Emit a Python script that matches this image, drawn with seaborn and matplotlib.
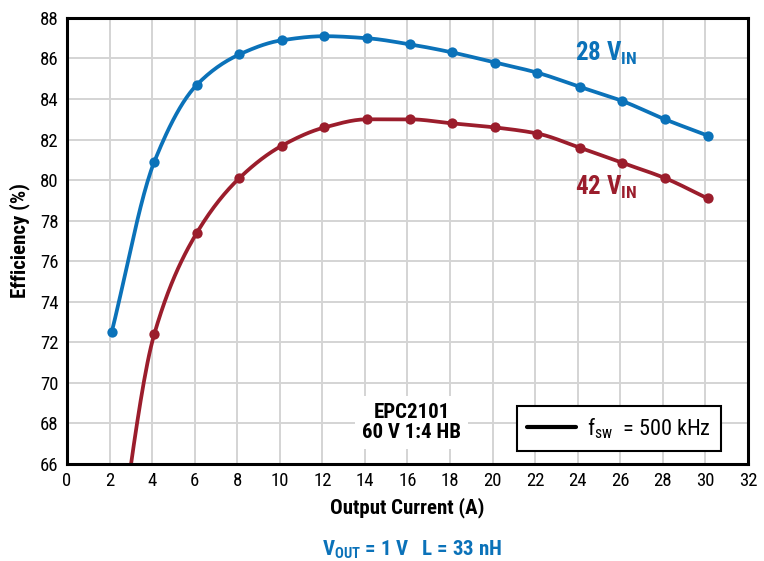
import numpy as np
import pandas as pd
import matplotlib
matplotlib.use('Agg')
import matplotlib.pyplot as plt
from matplotlib.lines import Line2D
import seaborn as sns

#Data
current_28 = [2.1, 4.1, 6.1, 8.1, 10.1, 12.1, 14.1, 16.1, 18.1, 20.1, 22.1, 24.1, 26.1, 28.1, 30.1]
eff_28 = [72.5, 80.9, 84.7, 86.2, 86.9, 87.1, 87.0, 86.7, 86.3, 85.8, 85.3, 84.6, 83.9, 83.0, 82.2]
current_42 = [2.1, 4.1, 6.1, 8.1, 10.1, 12.1, 14.1, 16.1, 18.1, 20.1, 22.1, 24.1, 26.1, 28.1, 30.1]
eff_42 = [59.5, 72.4, 77.4, 80.1, 81.7, 82.6, 83.0, 83.0, 82.8, 82.6, 82.3, 81.6, 80.85, 80.1, 79.1]
x_ticks = list(range(0, 33, 2))
y_ticks = list(range(66, 89, 2))

blue = '#0b72b9'
red = '#9b1d2c'

sns.set_style('whitegrid')
family = 'Roboto Condensed'
plt.rcParams['font.family'] = [family, 'DejaVu Sans']
plt.rcParams['mathtext.fontset'] = 'custom'
plt.rcParams['mathtext.rm'] = family
plt.rcParams['mathtext.bf'] = family + ':bold'
plt.rcParams['text.color'] = 'black'
plt.rcParams['axes.labelcolor'] = 'black'
plt.rcParams['xtick.color'] = 'black'
plt.rcParams['ytick.color'] = 'black'

#Monotone cubic (PCHIP) line through the points, markers stay on the data
def smooth(x, y, n=25):
    x = np.asarray(x, float)
    y = np.asarray(y, float)
    h = np.diff(x)
    d = np.diff(y) / h
    m = np.zeros_like(y)
    for i in range(1, len(x)-1):
        if d[i-1]*d[i] > 0:
            w1 = 2*h[i] + h[i-1]
            w2 = h[i] + 2*h[i-1]
            m[i] = (w1 + w2) / (w1/d[i-1] + w2/d[i])
    m[0] = d[0]
    m[-1] = d[-1]
    xs, ys = [], []
    t = np.linspace(0, 1, n, endpoint=False)
    for i in range(len(x)-1):
        h00 = 2*t**3 - 3*t**2 + 1
        h10 = t**3 - 2*t**2 + t
        h01 = -2*t**3 + 3*t**2
        h11 = t**3 - t**2
        xs.extend(x[i] + t*h[i])
        ys.extend(h00*y[i] + h10*h[i]*m[i] + h01*y[i+1] + h11*h[i]*m[i+1])
    xs.append(x[-1])
    ys.append(y[-1])
    return np.array(xs), np.array(ys)

fig = plt.figure(figsize=(7.64, 5.61), dpi=100)
ax = fig.add_axes([0.0877, 0.173, 0.8913, 0.795])

for cx, cy, col in ((current_28, eff_28, blue), (current_42, eff_42, red)):
    sx, sy = smooth(cx, cy)
    sns.lineplot(x=sx, y=sy, ax=ax, color=col, linewidth=2.7, sort=False, estimator=None)
    sns.scatterplot(x=cx, y=cy, ax=ax, color=col, s=55, edgecolor=col, linewidth=0, zorder=5)

ax.set_xlim(0, 32)
ax.set_ylim(66, 88)
ax.set_xticks(x_ticks)
ax.set_yticks(y_ticks)
ax.tick_params(axis='both', length=0, labelsize=13.5, pad=6)
ax.grid(True, color='#d4d4d4', linewidth=1.4)
for s in ax.spines.values():
    s.set_color('black')
    s.set_linewidth(2.2)

ax.set_xlabel('Output Current (A)', fontsize=15, fontweight='bold', labelpad=5)
ax.set_ylabel('Efficiency (%)', fontsize=15, fontweight='bold', labelpad=7)

ax.text(23.85, 86.25, r'28 V$_{\mathbf{IN}}$', color=blue, fontsize=18, fontweight='bold', va='center')
ax.text(23.85, 79.65, r'42 V$_{\mathbf{IN}}$', color=red, fontsize=18, fontweight='bold', va='center')

ax.text(16.2, 68.05, 'EPC2101\n60 V 1:4 HB', fontsize=15, fontweight='bold', ha='center', va='center',
        linespacing=1.05, bbox=dict(facecolor='white', edgecolor='none', pad=5))

handle = [Line2D([0], [0], color='black', linewidth=3)]
leg = ax.legend(handle, [r'f$_{\mathregular{sw}}$  = 500 kHz'], loc='lower right',
                bbox_to_anchor=(0.961, 0.03), fontsize=16, frameon=True, fancybox=False,
                handlelength=2.2, borderpad=0.45, handletextpad=0.5, borderaxespad=0)
leg.get_frame().set_edgecolor('black')
leg.get_frame().set_linewidth(1.5)
leg.get_frame().set_alpha(1)

fig.text(0.539, 0.0, r'V$_{\mathbf{OUT}}$ = 1 V   L = 33 nH', color=blue, fontsize=15,
         fontweight='bold', ha='center', va='bottom')

fig.savefig('out.png', dpi=100)
